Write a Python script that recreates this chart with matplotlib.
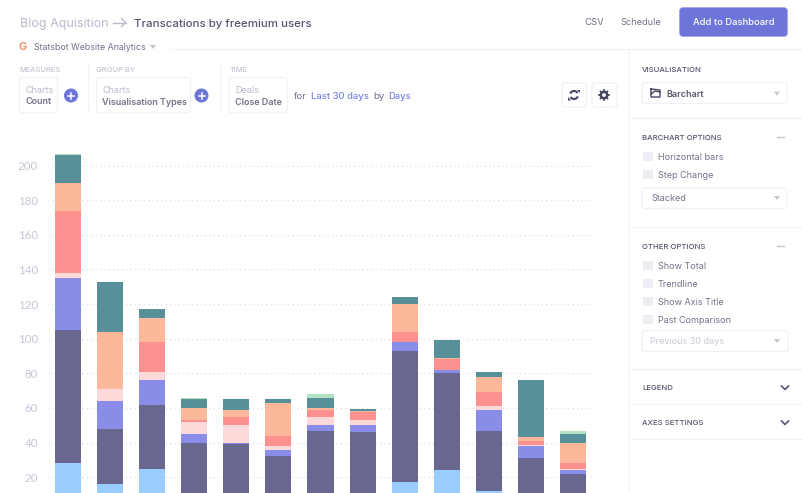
import numpy as np
import matplotlib
matplotlib.use("Agg")
import matplotlib.pyplot as plt
from matplotlib.patches import FancyBboxPatch, Rectangle, Circle, Polygon, Arc

plt.rcParams['font.family'] = ['Inter', 'DejaVu Sans']

# Stacked values per day, bottom to top (first bars are cut by the crop)
light_blue = [28, 16, 25, 0, 0, 0, 0, 0, 17, 24, 12, 0, 0]
dark_purple = [77, 32, 37, 40, 39, 32, 47, 46, 76, 56, 35, 31, 22]
periwinkle = [30, 16, 14, 5, 1, 4, 3, 4, 5, 2, 12, 7, 2]
pink = [3, 7, 5, 7, 10, 2, 5, 3, 0, 0, 2, 0.5, 0.6]
red = [36, 0, 17, 1, 5, 6, 4, 4.5, 6, 6.5, 8, 2.5, 3.4]
salmon = [16, 33, 14, 7, 4, 19, 1, 0.5, 16, 0.5, 9, 2, 12]
teal = [16, 29, 5, 5, 6, 2, 6, 1.5, 4, 10, 3, 33, 5]
green = [1, 0, 0, 1, 0, 0, 2, 0, 0, 0, 0, 0, 2]

series = [light_blue, dark_purple, periwinkle, pink, red, salmon, teal, green]
colors = ['#99CCFF', '#69668F', '#8A8DE8', '#FFD9D9', '#FF9090', '#FDB89C', '#579099', '#B5E2C0']
y_ticks = [20, 40, 60, 80, 100, 120, 140, 160, 180, 200]

W, H = 802, 493
fig = plt.figure(figsize=(W / 100, H / 100), dpi=100)

# Page furniture is laid out in pixels on a full-figure axes
ui = fig.add_axes([0, 0, 1, 1])
ui.set_xlim(0, W)
ui.set_ylim(H, 0)
ui.axis('off')

LINE = '#F2F3F6'
DARK = '#55566F'
MID = '#72738A'
PALE = '#B9BBCB'
BLUE = '#7B80E0'


def px(size):
    return size * 0.72


def label(x, y, s, size=9.5, color=MID, weight='normal', ha='left'):
    ui.text(x, y + 0.7, s, fontsize=px(size), color=color, fontweight=weight, ha=ha, va='center')


def box(x0, y0, x1, y1, fc='white', ec='#F0F1F5', r=3):
    ui.add_patch(FancyBboxPatch((x0, y0), x1 - x0, y1 - y0, boxstyle=f'round,pad=0,rounding_size={r}',
                                fc=fc, ec=ec, lw=0.9))


def caret(x, y, color='#C4C5D2', s=3.2):
    ui.add_patch(Polygon([(x - s, y - s * 0.6), (x + s, y - s * 0.6), (x, y + s * 0.6)], fc=color, ec='none'))


def chevron(x, y):
    ui.plot([x - 3.5, x, x + 3.5], [y - 2, y + 1.5, y - 2], color='#55566F', lw=1.2)


def checkbox(y, s):
    ui.add_patch(Rectangle((643, y - 5), 9.5, 9.5, fc='#EDEEF3', ec='none'))
    label(658, y, s, color=MID, size=9)


def plus(x, y):
    ui.add_patch(Circle((x, y), 7, fc='#6E75D9', ec='none'))
    ui.plot([x - 3, x + 3], [y, y], color='white', lw=1.1)
    ui.plot([x, x], [y - 3, y + 3], color='white', lw=1.1)


# Dividers
ui.plot([170, W], [49, 49], color=LINE, lw=0.9)
ui.plot([628.5, 628.5], [49, H], color=LINE, lw=0.9)
for y in [118, 227, 369, 404, 439]:
    ui.plot([628.5, W], [y, y], color=LINE, lw=0.9)
for x in [87.5, 219.5]:
    ui.plot([x, x], [65, 112], color=LINE, lw=0.9)

# Header
label(19.5, 23, 'Blog Aquisition', size=12.5, color=PALE)
ui.plot([113, 125.5], [22.5, 22.5], color=PALE, lw=1)
ui.plot([121.5, 125.5, 121.5], [18.5, 22.5, 26.5], color=PALE, lw=1)
label(133.5, 23, 'Transcations by freemium users', size=11.5, color=DARK, weight='medium')
label(18.5, 46.5, 'G', size=11, color='#F0906E', weight='bold')
label(34.5, 46.5, 'Statsbot Website Analytics', size=8.8, color=MID)
caret(153, 47)
label(584.5, 22, 'CSV', size=9.5)
label(620, 22, 'Schedule', size=9.2)
box(680, 8, 787, 36, fc='#6E75D9', ec='#6E75D9')
label(733.5, 22, 'Add to Dashboard', size=9.4, color='white', weight='medium', ha='center')

# Query builder
label(19.5, 69.5, 'MEASURES', size=7.6, color=PALE)
label(96.5, 69.5, 'GROUP BY', size=7.6, color=PALE)
label(229.5, 69.5, 'TIME', size=7.6, color=PALE)
box(19.5, 77.5, 57.5, 113)
box(96.5, 77.5, 190.5, 113)
box(229, 77.5, 287, 113)
label(25, 90, 'Charts', size=9, color=PALE)
label(25, 101, 'Count', size=9, color=MID, weight='semibold')
label(102.5, 90, 'Charts', size=9, color=PALE)
label(102.5, 101.5, 'Visualisation Types', size=9, color=MID, weight='semibold')
label(235, 90, 'Deals', size=9, color=PALE)
label(235, 101.5, 'Close Date', size=9, color=MID, weight='semibold')
plus(71, 95.5)
plus(201.5, 95.5)
label(293.5, 95.5, 'for', size=9.5)
label(311, 95.5, 'Last 30 days', size=9.5, color=BLUE, weight='medium')
label(373, 95.5, 'by', size=9.5)
label(388, 95.5, 'Days', size=9.5, color=BLUE, weight='medium')

# Refresh and settings buttons
box(562, 83, 586, 107)
box(592, 83, 617, 107)
ui.add_patch(Arc((574, 95), 8, 8, theta1=20, theta2=150, color='#44455E', lw=1.5))
ui.add_patch(Arc((574, 95), 8, 8, theta1=200, theta2=330, color='#44455E', lw=1.5))
ui.add_patch(Polygon([(577, 89.5), (580, 89.5), (580, 93)], fc='#44455E', ec='none'))
ui.add_patch(Polygon([(568, 100.5), (571, 100.5), (568, 97)], fc='#44455E', ec='none'))
ui.add_patch(Circle((604, 95), 3.2, fc='white', ec='#44455E', lw=1.8))
for a in np.deg2rad(np.arange(0, 360, 45)):
    ui.plot([604 + 3.5 * np.cos(a), 604 + 5 * np.cos(a)], [95 + 3.5 * np.sin(a), 95 + 5 * np.sin(a)],
            color='#44455E', lw=1.2)

# Right panel
label(642, 69, 'VISUALISATION', size=7.8, color=DARK, weight='medium')
box(642, 82.5, 787, 103.5)
ui.plot([651, 651, 660, 660, 651], [89, 97, 97, 90, 89], color='#44455E', lw=1)
ui.plot([651, 655, 660], [94, 91, 92], color='#44455E', lw=1)
label(666.5, 93.5, 'Barchart', size=9, color=DARK, weight='semibold')
caret(777, 93.5)

label(642, 137, 'BARCHART OPTIONS', size=7.8, color=DARK, weight='medium')
ui.plot([777, 784], [137, 137], color='#C4C5D2', lw=1)
checkbox(156.5, 'Horizontal bars')
checkbox(174.5, 'Step Change')
box(642, 188, 787, 208.5)
label(651, 198, 'Stacked', size=9)
caret(777, 198)

label(642, 246, 'OTHER OPTIONS', size=7.8, color=DARK, weight='medium')
ui.plot([777, 784], [246, 246], color='#C4C5D2', lw=1)
checkbox(265.5, 'Show Total')
checkbox(283.5, 'Trendline')
checkbox(301.5, 'Show Axis Title')
checkbox(319.5, 'Past Comparison')
box(642, 330.5, 788, 351.5)
label(650, 341, 'Previous 30 days', size=9, color='#C8C9D6')
caret(777, 341)

label(642, 387, 'LEGEND', size=7.8, color=DARK, weight='medium')
chevron(785, 388)
label(642, 422, 'AXES SETTINGS', size=7.8, color=DARK, weight='medium')
chevron(785, 423)

# Chart, cut off by the bottom of the page
ax = fig.add_axes([47 / W, 0, (594 - 47) / W, (H - 140) / H])
ax.patch.set_alpha(0)
ax.set_xlim(-0.5, 12.5)
ax.set_ylim(10.9, 214.8)

x = np.arange(len(light_blue))
bottom = np.zeros(len(x))
for values, color in zip(series, colors):
    values = np.array(values, dtype=float)
    ax.bar(x, values, 0.62, bottom=bottom, color=color, edgecolor='none', zorder=3)
    bottom += values

ax.set_yticks(y_ticks)
ax.set_xticks([])
ax.grid(axis='y', color='#DEDFE6', lw=0.9, linestyle=(0, (1, 2.5)), zorder=0)
ax.tick_params(axis='y', length=0, pad=6.5, labelsize=px(11.5), labelcolor='#C5C7D6')
for lab in ax.get_yticklabels():
    lab.set_family(['Lato', 'DejaVu Sans'])
for side in ax.spines.values():
    side.set_visible(False)

fig.savefig('out.png', dpi=100)
